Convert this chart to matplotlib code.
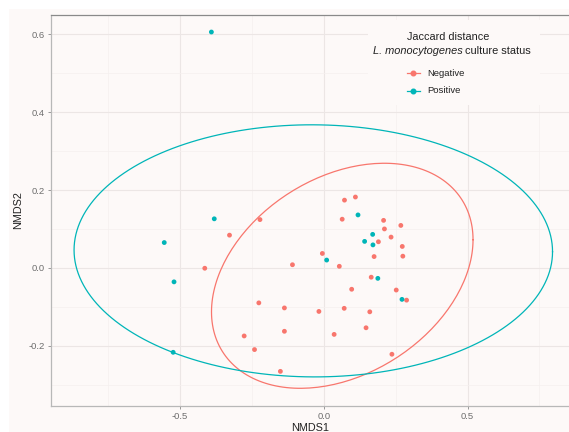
import numpy as np
import matplotlib
matplotlib.use("Agg")
import matplotlib.pyplot as plt
from matplotlib.patches import Rectangle
from matplotlib.lines import Line2D

plt.rcParams['font.family'] = ['Liberation Sans', 'DejaVu Sans']

# NMDS scores
neg_x = [-0.222, -0.328, -0.414, -0.109, -0.226, -0.137, -0.137, -0.277, -0.241, -0.151,
         0.072, 0.110, 0.064, 0.208, 0.211, 0.268, 0.234, 0.190, 0.273, -0.005,
         0.175, 0.275, 0.054, 0.165, 0.097, 0.252, 0.288, -0.017, 0.071, 0.160,
         0.147, 0.036, 0.237]
neg_y = [0.124, 0.084, -0.001, 0.008, -0.090, -0.103, -0.163, -0.175, -0.210, -0.266,
         0.174, 0.182, 0.125, 0.122, 0.100, 0.109, 0.079, 0.067, 0.055, 0.037,
         0.029, 0.030, 0.004, -0.024, -0.055, -0.057, -0.083, -0.112, -0.104, -0.113,
         -0.154, -0.171, -0.222]
pos_x = [-0.391, -0.381, -0.555, -0.521, -0.524, 0.010, 0.119, 0.170, 0.142, 0.171, 0.188, 0.272]
pos_y = [0.606, 0.126, 0.065, -0.036, -0.217, 0.020, 0.136, 0.086, 0.068, 0.059, -0.027, -0.081]

groups = ["Negative", "Positive"]
colors = {"Negative": "#F8766D", "Positive": "#00B5B8"}
bg = "#FDF9F8"


def cov_trob(x, nu=5, maxit=25, tol=0.01):
    # port of MASS::cov.trob, as used by ggplot2 stat_ellipse
    n, p = x.shape
    wt = np.ones(n)
    loc = x.mean(axis=0)
    w = np.sqrt(wt)
    for _ in range(maxit):
        w0 = w
        X = x - loc
        u, d, vt = np.linalg.svd(np.sqrt(w / w.sum())[:, None] * X, full_matrices=False)
        wX = X @ vt.T @ np.diag(1 / d)
        Q = (wX ** 2).sum(axis=1)
        w = (wt * (nu + p)) / (nu + Q)
        loc = (w[:, None] * x).sum(axis=0) / w.sum()
        if np.all(np.abs(w - w0) < tol):
            break
    X = x - loc
    cov = (np.sqrt(w)[:, None] * X).T @ (np.sqrt(w)[:, None] * X) / wt.sum()
    return loc, cov


def ellipse(xs, ys, level=0.95, segments=200):
    pts = np.column_stack([xs, ys])
    loc, cov = cov_trob(pts)
    n = len(xs)
    dfd = n - 1
    # qf(level, 2, dfd) in closed form
    f = dfd / 2 * ((1 - level) ** (-2 / dfd) - 1)
    radius = np.sqrt(2 * f)
    t = np.linspace(0, 2 * np.pi, segments + 1)
    circle = np.column_stack([np.cos(t), np.sin(t)])
    chol = np.linalg.cholesky(cov).T
    e = loc + radius * circle @ chol
    return e[:, 0], e[:, 1]


W, H = 569, 432
fig = plt.figure(figsize=(W / 100, H / 100), dpi=100, facecolor="white")
fig.patches.append(Rectangle((9 / W, 0), 1, (H - 9) / H, transform=fig.transFigure,
                             facecolor=bg, edgecolor="none", zorder=-10))
ax = fig.add_axes([50.7 / W, 26 / H, 1 - 50.7 / W, (406 - 14.7) / H])
ax.set_facecolor(bg)

ax.set_xlim(-0.950, 0.853)
ax.set_ylim(-0.355, 0.6505)
ax.set_xticks([-0.5, 0.0, 0.5])
ax.set_xticks([-0.75, -0.25, 0.25, 0.75], minor=True)
ax.set_yticks([-0.2, 0.0, 0.2, 0.4, 0.6])
ax.set_yticks([-0.3, -0.1, 0.1, 0.3, 0.5], minor=True)
ax.set_xticklabels(["-0.5", "0.0", "0.5"])
ax.set_yticklabels(["-0.2", "0.0", "0.2", "0.4", "0.6"])
ax.grid(which="major", color="#ECE6E5", linewidth=0.8, zorder=0)
ax.grid(which="minor", color="#F5F0EF", linewidth=0.5, zorder=0)
ax.set_axisbelow(True)
ax.tick_params(which="major", length=2.5, width=0.6, color="#888888",
               labelsize=6.8, labelcolor="#6E6E6E", pad=1.5)
ax.tick_params(which="minor", length=0)

ax.spines["right"].set_visible(False)
ax.spines["top"].set_color("#8A8A8A")
ax.spines["top"].set_linewidth(0.9)
for side in ["left", "bottom"]:
    ax.spines[side].set_color("#B8B8B8")
    ax.spines[side].set_linewidth(0.9)

data = {"Negative": (neg_x, neg_y), "Positive": (pos_x, pos_y)}
for g in groups:
    xs, ys = data[g]
    ax.scatter(xs, ys, s=12, color=colors[g], edgecolors="none", zorder=3)
    ex, ey = ellipse(np.array(xs), np.array(ys))
    ax.plot(ex, ey, color=colors[g], linewidth=0.9, zorder=2)

ax.set_xlabel("NMDS1", fontsize=7.8, color="#222222", labelpad=2)
ax.set_ylabel("NMDS2", fontsize=7.8, color="#222222", labelpad=4)

# legend inside panel, drawn by hand
ax.add_patch(Rectangle((368, H - 105), 172, 85, transform=None,
                       facecolor=bg, edgecolor="none", zorder=1))
fig.text(447.7 / W, 1 - 39.5 / H, "Jaccard distance", ha="center", va="baseline",
         fontsize=7.8, color="#222222")
t1 = fig.text(373 / W, 1 - 53.5 / H, "L. monocytogenes", ha="left", va="baseline",
              fontsize=7.9, color="#222222", fontstyle="italic")
r = fig.canvas.get_renderer()
bb = t1.get_window_extent(renderer=r)
fig.text((bb.x1 + 2.5) / W, 1 - 53.5 / H, "culture status", ha="left", va="baseline",
         fontsize=7.9, color="#222222")

for g, yk in zip(groups, [73.3, 90.7]):
    fig.add_artist(Line2D([406.7 / W, 420 / W], [1 - yk / H, 1 - yk / H], color=colors[g],
                          linewidth=0.9, transform=fig.transFigure))
    fig.add_artist(Line2D([413.3 / W], [1 - yk / H], color=colors[g], marker="o",
                          markersize=3.3, linestyle="none", transform=fig.transFigure))
    fig.text(427.7 / W, 1 - yk / H, g, ha="left", va="center", fontsize=6.8, color="#222222")

fig.savefig("out.png", dpi=100, facecolor="white")
